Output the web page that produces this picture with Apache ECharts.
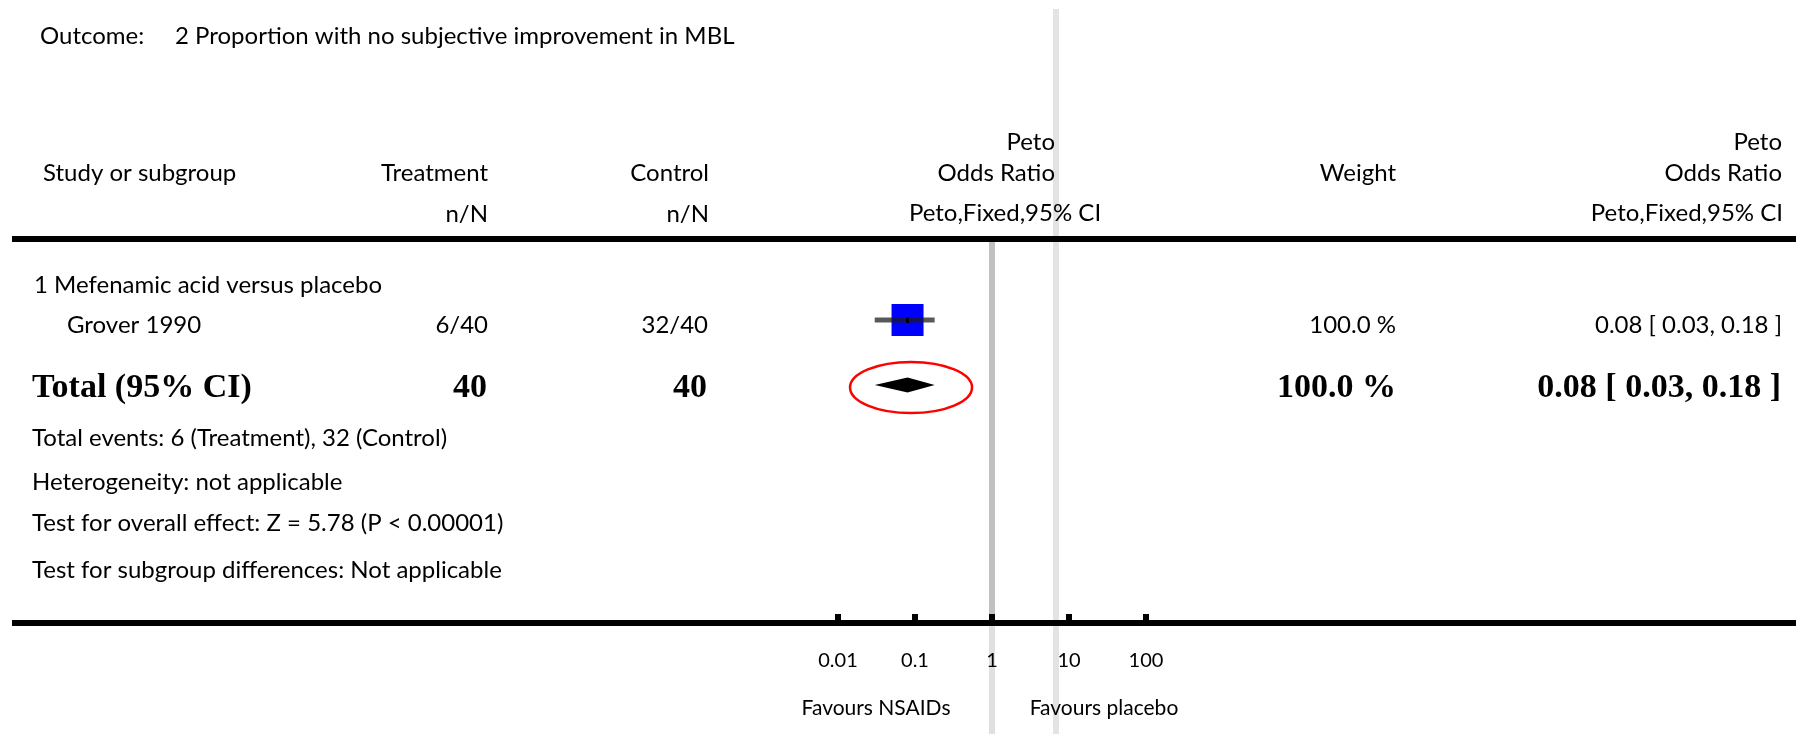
<!DOCTYPE html>
<html>
<head>
<meta charset="utf-8">
<script src="https://cdn.jsdelivr.net/npm/echarts@6/dist/echarts.min.js"></script>
<style>
html,body{margin:0;padding:0;background:#fff;}
#chart{width:1796px;height:734px;}
</style>
</head>
<body>
<div id="chart"></div>
<script>
// ---------------- data ----------------
const outcomeLabel = 'Outcome:';
const outcomeTitle = '2 Proportion with no subjective improvement in MBL';
const subgroupTitle = '1 Mefenamic acid versus placebo';
const studies = ['Grover 1990'];
const treatEvents = [6];
const treatTotal = [40];
const ctrlEvents = [32];
const ctrlTotal = [40];
const studyOR = [0.08];
const studyLo = [0.03];
const studyHi = [0.18];
const studyWeight = [100.0];
const totalLabel = 'Total (95% CI)';
const totalOR = [0.08];
const totalLo = [0.03];
const totalHi = [0.18];
const totalWeight = [100.0];
const heterogeneity = 'Heterogeneity: not applicable';
const overallEffect = 'Test for overall effect: Z = 5.78 (P < 0.00001)';
const subgroupDiff = 'Test for subgroup differences: Not applicable';
const tickValues = [0.01, 0.1, 1, 10, 100];
const tickLabels = ['0.01', '0.1', '1', '10', '100'];
const favoursLeft = 'Favours NSAIDs';
const favoursRight = 'Favours placebo';

// ---------------- layout ----------------
const SANS = 'Lato';
const SERIF = '"Liberation Serif"';
const fBody = '24px ' + SANS;
const fBold = 'bold 34px ' + SERIF;
const ROW_STUDY = 6, ROW_TOTAL = 11;   // rows in y-axis units
const sum = a => a.reduce((s, v) => s + v, 0);
const fmtCI = (o, l, h) => o.toFixed(2) + ' [ ' + l.toFixed(2) + ', ' + h.toFixed(2) + ' ]';
const fmtW = w => w.toFixed(1) + ' %';

function txt(text, x, y, align, font, fill) {
  return {
    type: 'text', z: 10, silent: true,
    style: {
      text: text, x: x, y: y, font: font || fBody, fill: fill || '#000',
      textAlign: align || 'left', align: align || 'left',
      textVerticalAlign: 'middle', verticalAlign: 'middle'
    }
  };
}

const graphics = [];
// page artefact light line
graphics.push({type: 'rect', z: -5, silent: true, shape: {x: 1053, y: 9, width: 6, height: 725}, style: {fill: '#e3e3e3'}});
// header & axis rules
graphics.push({type: 'rect', z: 8, silent: true, shape: {x: 12, y: 236, width: 1784, height: 6}, style: {fill: '#000'}});
graphics.push({type: 'rect', z: 8, silent: true, shape: {x: 12, y: 620, width: 1784, height: 6}, style: {fill: '#000'}});

graphics.push(txt(outcomeLabel, 40, 36));
graphics.push(txt(outcomeTitle, 175, 36));
// headers
graphics.push(txt('Study or subgroup', 43, 173));
graphics.push(txt('Treatment', 488, 173, 'right'));
graphics.push(txt('Control', 709, 173, 'right'));
graphics.push(txt('n/N', 488, 214, 'right'));
graphics.push(txt('n/N', 709, 214, 'right'));
graphics.push(txt('Peto', 1055, 142, 'right'));
graphics.push(txt('Odds Ratio', 1055, 173, 'right'));
graphics.push(txt('Peto,Fixed,95% CI', 1005, 213, 'center'));
graphics.push(txt('Weight', 1396, 173, 'right'));
graphics.push(txt('Peto', 1782, 142, 'right'));
graphics.push(txt('Odds Ratio', 1782, 173, 'right'));
graphics.push(txt('Peto,Fixed,95% CI', 1783, 213, 'right'));
// subgroup
graphics.push(txt(subgroupTitle, 34, 285));
studies.forEach((s, i) => {
  const y = 325;
  graphics.push(txt(s, 67, y));
  graphics.push(txt(treatEvents[i] + '/' + treatTotal[i], 488, y, 'right'));
  graphics.push(txt(ctrlEvents[i] + '/' + ctrlTotal[i], 708, y, 'right'));
  graphics.push(txt(fmtW(studyWeight[i]), 1396, y, 'right'));
  graphics.push(txt(fmtCI(studyOR[i], studyLo[i], studyHi[i]), 1782, y, 'right'));
});
// total row
graphics.push(txt(totalLabel, 32, 388, 'left', fBold));
graphics.push(txt(String(sum(treatTotal)), 487, 388, 'right', fBold));
graphics.push(txt(String(sum(ctrlTotal)), 707, 388, 'right', fBold));
graphics.push(txt(fmtW(totalWeight[0]), 1396, 388, 'right', fBold));
graphics.push(txt(fmtCI(totalOR[0], totalLo[0], totalHi[0]), 1781, 388, 'right', fBold));
// footnotes
graphics.push(txt('Total events: ' + sum(treatEvents) + ' (Treatment), ' + sum(ctrlEvents) + ' (Control)', 32, 438));
graphics.push(txt(heterogeneity, 32, 482));
graphics.push(txt(overallEffect, 32, 523));
graphics.push(txt(subgroupDiff, 32, 570));
// favours
graphics.push(txt(favoursLeft, 876, 708, 'center', '21px ' + SANS));
graphics.push(txt(favoursRight, 1104, 708, 'center', '21px ' + SANS));

const chart = echarts.init(document.getElementById('chart'), null, {renderer: 'canvas'});

const option = {
  backgroundColor: '#fff',
  animation: false,
  grid: {left: 838, right: 650, top: 242, height: 381},
  xAxis: {
    type: 'log', logBase: 10, min: tickValues[0], max: tickValues[tickValues.length - 1],
    z: 12,
    axisLine: {show: true, onZero: false, lineStyle: {color: '#000', width: 6}},
    axisTick: {show: true, inside: true, length: 9, lineStyle: {width: 6, color: '#000'}},
    axisLabel: {
      margin: 28, fontSize: 20, fontFamily: SANS, color: '#000',
      formatter: function (v) {
        let best = 0, d = Infinity;
        tickValues.forEach((t, i) => { const e = Math.abs(Math.log10(t) - Math.log10(v)); if (e < d) { d = e; best = i; } });
        return tickLabels[best];
      }
    },
    splitLine: {show: false},
    minorTick: {show: false}
  },
  yAxis: {type: 'value', inverse: true, min: 0, max: 381 / 13, show: false, splitLine: {show: false}},
  graphic: graphics,
  series: [
    {
      type: 'custom',
      name: 'studies',
      z: 5,
      data: studies.map((s, i) => [studyOR[i], studyLo[i], studyHi[i], ROW_STUDY, studyWeight[i]]),
      renderItem: function (params, api) {
        const row = api.value(3);
        const c = api.coord([api.value(0), row]);
        const l = api.coord([api.value(1), row]);
        const h = api.coord([api.value(2), row]);
        const size = 32 * Math.sqrt(api.value(4) / 100);
        return {
          type: 'group',
          children: [
            {type: 'rect', shape: {x: c[0] - size / 2, y: c[1] - size / 2, width: size, height: size}, style: {fill: '#0000ff'}},
            {type: 'line', shape: {x1: l[0], y1: c[1], x2: h[0], y2: c[1]}, style: {stroke: 'rgba(25,25,25,0.72)', lineWidth: 5}},
            {type: 'rect', shape: {x: c[0] - 1.5, y: c[1] - 3, width: 3, height: 6}, style: {fill: '#000'}}
          ]
        };
      },
      markLine: {
        silent: true, symbol: 'none', label: {show: false},
        lineStyle: {color: '#c0c0c0', width: 6, type: 'solid'},
        data: [{xAxis: 1}]
      }
    },
    {
      type: 'custom',
      name: 'total',
      z: 5,
      data: totalOR.map((o, i) => [o, totalLo[i], totalHi[i], ROW_TOTAL]),
      renderItem: function (params, api) {
        const row = api.value(3);
        const c = api.coord([api.value(0), row]);
        const l = api.coord([api.value(1), row]);
        const h = api.coord([api.value(2), row]);
        return {
          type: 'group',
          children: [
            {type: 'polygon', shape: {points: [[l[0], c[1]], [c[0], c[1] - 7.5], [h[0], c[1]], [c[0], c[1] + 7.5]]}, style: {fill: '#000'}},
            {type: 'ellipse', shape: {cx: c[0] + 3.5, cy: c[1] + 2.5, rx: 61, ry: 25.5}, style: {fill: null, stroke: '#ff0000', lineWidth: 2.5}}
          ]
        };
      }
    }
  ]
};
chart.setOption(option);

// light continuation of the no-effect line below the axis
const x1 = chart.convertToPixel({xAxisIndex: 0}, 1);
chart.setOption({
  graphic: graphics.concat([
    {type: 'rect', z: -4, silent: true, shape: {x: x1 - 3, y: 626, width: 6, height: 108}, style: {fill: '#e0e0e0'}}
  ])
});
</script>
</body>
</html>
